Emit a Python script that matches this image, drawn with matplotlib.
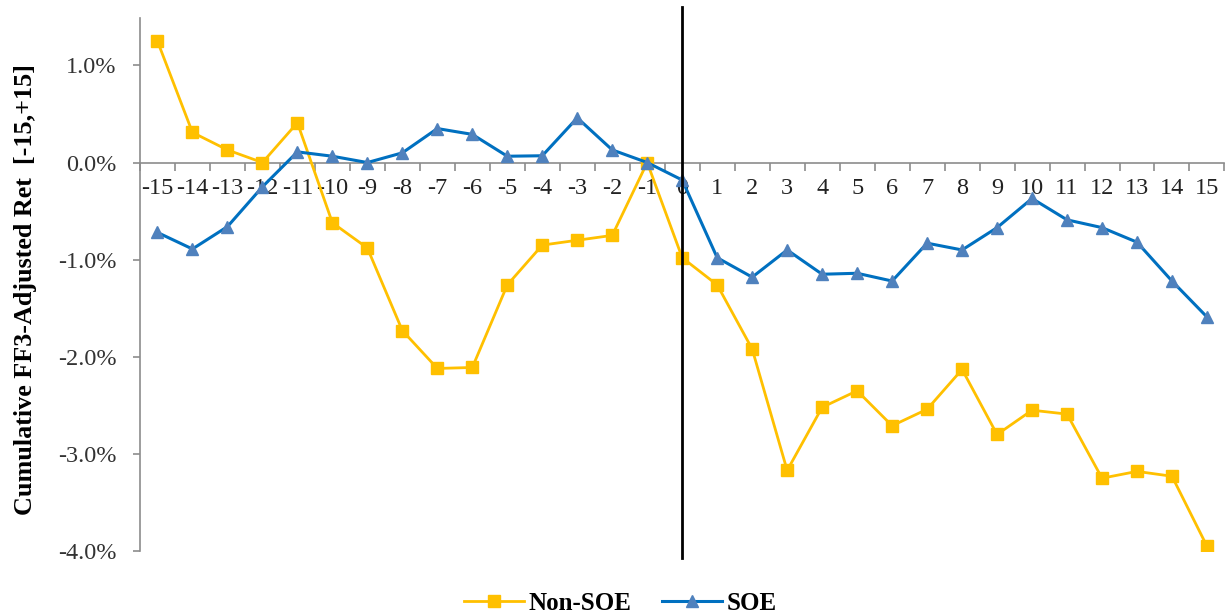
import matplotlib
matplotlib.use("Agg")
import matplotlib.pyplot as plt
from matplotlib.ticker import FuncFormatter, MultipleLocator

# event window days and cumulative FF3-adjusted returns (%)
days = list(range(-15, 16))
non_soe = [1.25, 0.31, 0.13, 0.0, 0.41, -0.62, -0.88, -1.73, -2.12, -2.11,
           -1.26, -0.85, -0.80, -0.75, 0.0, -0.98, -1.26, -1.92, -3.17, -2.52,
           -2.35, -2.71, -2.54, -2.13, -2.80, -2.55, -2.59, -3.25, -3.18, -3.23,
           -3.95]
soe = [-0.72, -0.89, -0.66, -0.25, 0.11, 0.065, 0.0, 0.10, 0.35, 0.29,
       0.065, 0.07, 0.46, 0.13, 0.0, -0.18, -0.98, -1.18, -0.90, -1.15,
       -1.14, -1.22, -0.83, -0.90, -0.67, -0.37, -0.59, -0.67, -0.82, -1.22,
       -1.59]
event_day = 0

plt.rcParams["font.family"] = ["Liberation Serif", "DejaVu Serif"]

fig = plt.figure(figsize=(12.3, 6.15), dpi=100)
ax = fig.add_axes([0.1138, 0.104, 0.8817, 0.867])

ax.plot(days, non_soe, color="#FFC000", lw=2, marker="s", ms=8.5,
        mec="#FFC000", mfc="#FFC000", label="Non-SOE", zorder=3)
ax.plot(days, soe, color="#0070C0", lw=2.2, marker="^", ms=9,
        mec="#4F81BD", mfc="#4F81BD", label="SOE", zorder=4)

ax.set_xlim(-15.5, 15.5)
ax.set_ylim(-4.0, 1.49)

# event-day line, reaching a little past the plot box
ax.plot([event_day, event_day], [1.6, -4.07], color="black", lw=2,
        clip_on=False, zorder=5)

for side in ["top", "right"]:
    ax.spines[side].set_visible(False)
ax.spines["bottom"].set_position(("data", 0))
ax.spines["bottom"].set_color("#8C8C8C")
ax.spines["left"].set_color("#8C8C8C")
ax.spines["left"].set_linewidth(1.2)
ax.spines["bottom"].set_linewidth(1.2)

ax.set_xticks(days)
ax.set_xticklabels([str(d) for d in days])
ax.xaxis.set_minor_locator(MultipleLocator(1, offset=0.5))
ax.tick_params(axis="x", which="major", length=0, pad=11, labelsize=17.5,
               labelcolor="#222222")
ax.tick_params(axis="x", which="minor", length=6, width=1.2, color="#8C8C8C",
               direction="out")

ax.yaxis.set_major_locator(MultipleLocator(1.0))
ax.yaxis.set_major_formatter(FuncFormatter(lambda v, p: f"{v:.1f}%"))
ax.tick_params(axis="y", length=5, width=1.2, color="#8C8C8C", pad=12,
               labelsize=17.5, labelcolor="#333333")

ax.set_ylabel("Cumulative FF3-Adjusted Ret  [-15,+15]", fontsize=18.8,
              fontweight="bold")
ax.yaxis.set_label_coords(-0.095, 0.49)

leg = ax.legend(loc="upper center", bbox_to_anchor=(0.443, -0.035), ncol=2,
                frameon=False, handlelength=2.4,
                columnspacing=1.2, handletextpad=0.2,
                prop={"weight": "bold", "size": 18})

fig.savefig("out.png", dpi=100)
